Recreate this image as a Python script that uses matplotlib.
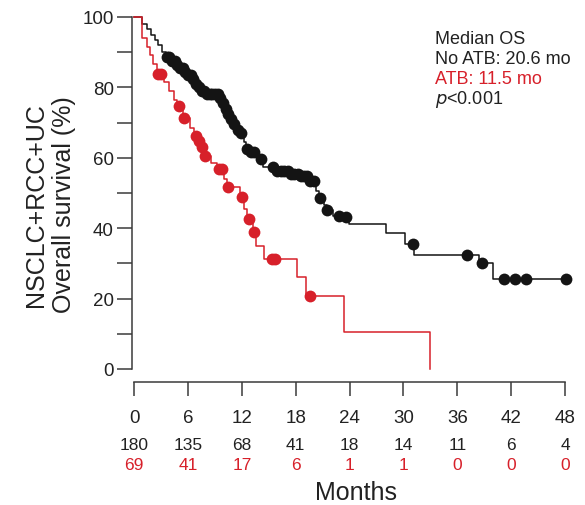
import matplotlib
matplotlib.use("Agg")
import matplotlib.pyplot as plt
import matplotlib.transforms as mtransforms
import numpy as np

plt.rcParams["font.family"] = ["Liberation Sans", "DejaVu Sans"]

# ===== DATOS =====
# curva sin antibioticos (No ATB)
times_noatb = [0, 0.9, 1.4, 1.9, 2.3, 2.7, 3.1, 3.5, 4.2, 4.6, 5.0, 5.5, 6.0, 6.4,
               6.7, 7.0, 7.5, 8.0, 9.6, 9.9, 10.2, 10.5, 10.7, 10.9, 11.3, 11.8,
               12.2, 12.5, 13.0, 13.8, 14.3, 15.6, 17.5, 18.5, 19.6, 20.3, 20.6,
               21.2, 21.5, 22.2, 23.4, 23.9, 28.0, 30.2, 31.2, 38.4, 40.0]
surv_noatb = [100, 98, 96.5, 95, 93.5, 92, 90, 88.5, 87.5, 86.5, 85.5, 84.5, 83.5,
              82.5, 81, 80, 79, 78, 77, 75.5, 74, 72.5, 71, 69.5, 68, 67, 64.5,
              62.5, 61.6, 59.7, 57.4, 56.3, 55.4, 54.9, 53.5, 50.5, 48.6, 46.5,
              45.2, 43.6, 43.2, 41.2, 38.5, 35.5, 32.4, 30.0, 25.6]
censor_noatb = [3.6, 3.9, 4.2, 4.5, 4.8, 5.1, 5.4, 5.7, 6.0, 6.3, 6.6, 6.9, 7.2,
                7.5, 7.8, 8.1, 8.4, 8.7, 9.0, 9.3, 9.6, 9.9, 10.2, 10.5, 10.8,
                11.1, 11.6, 11.9, 12.6, 13.0, 13.4, 14.1, 15.5, 15.9, 16.3, 16.7,
                17.1, 17.5, 17.8, 18.2, 18.6, 18.9, 19.3, 19.6, 20.0, 20.7, 21.5,
                22.8, 23.6, 31.1, 37.1, 38.7, 41.2, 42.4, 43.6, 48.1]

# curva con antibioticos (ATB)
times_atb = [0, 0.85, 1.4, 1.8, 2.1, 2.5, 3.3, 3.9, 4.4, 4.8, 5.4, 6.2, 6.7, 7.1,
             7.4, 7.8, 8.6, 9.2, 10.0, 10.3, 11.8, 12.2, 12.6, 13.2, 13.6, 14.5,
             18.1, 19.1, 23.4, 33.0]
surv_atb = [100, 94, 91.4, 89.1, 86.6, 83.8, 81.5, 79, 76.5, 74.8, 71.2, 68.5,
            66.3, 64.9, 63, 60.6, 58.5, 56.8, 54, 51.6, 48.8, 45.5, 42.6, 38.8,
            35, 31.25, 26, 20.6, 10.4, 0]
censor_atb = [2.7, 3.0, 5.0, 5.6, 6.9, 7.2, 7.6, 7.9, 9.4, 9.8, 10.5, 12.0, 12.8,
              13.4, 15.3, 15.7, 19.6]

month_ticks = [0, 6, 12, 18, 24, 30, 36, 42, 48]
at_risk_noatb = [180, 135, 68, 41, 18, 14, 11, 6, 4]
at_risk_atb = [69, 41, 17, 6, 1, 1, 0, 0, 0]

BLACK = "#141414"
RED = "#d7202a"
AXIS = "#3a3a3a"


def step_value(times, surv, t):
    idx = np.searchsorted(times, t, side="right") - 1
    return np.asarray(surv)[idx]


# ===== FIGURA =====
fig = plt.figure(figsize=(5.85, 5.06), dpi=100)
ax = fig.add_axes([132 / 585, 136 / 506, 433 / 585, 352 / 506])

for times, surv, cens, col in [
    (times_noatb, surv_noatb, censor_noatb, BLACK),
    (times_atb, surv_atb, censor_atb, RED),
]:
    t_line = list(times)
    s_line = list(surv)
    if max(cens) > t_line[-1]:
        t_line.append(max(cens))
        s_line.append(s_line[-1])
    ax.step(t_line, s_line, where="post", color=col, lw=1.1, clip_on=False, zorder=3)
    ax.plot(cens, step_value(times, surv, cens), "o", color=col, ms=8.5,
            mec="none", clip_on=False, zorder=4)

ax.set_xlim(-0.25, 48)
ax.set_ylim(0, 100)

for side in ["top", "right"]:
    ax.spines[side].set_visible(False)
ax.spines["left"].set_bounds(0, 100)
ax.spines["bottom"].set_position(("outward", 9))
ax.spines["bottom"].set_bounds(0, 48)
for side in ["left", "bottom"]:
    ax.spines[side].set_color(AXIS)
    ax.spines[side].set_linewidth(1.1)

ax.set_yticks([0, 20, 40, 60, 80, 100])
ax.set_yticks([10, 30, 50, 70, 90], minor=True)
ax.set_xticks(month_ticks)
ax.tick_params(axis="y", which="both", length=11, width=1.1, color=AXIS,
               pad=2, labelsize=13.5, labelcolor="#222222")
ax.tick_params(axis="x", length=10, width=1.1, color=AXIS, pad=10,
               labelsize=13.5, labelcolor="#222222")

# ===== TABLA DE RIESGO =====
trans = mtransforms.blended_transform_factory(ax.transData, fig.transFigure)
for x, n1, n2 in zip(month_ticks, at_risk_noatb, at_risk_atb):
    ax.text(x, 60 / 506, str(n1), transform=trans, ha="center", va="center",
            fontsize=12.5, color="#222222")
    ax.text(x, 40 / 506, str(n2), transform=trans, ha="center", va="center",
            fontsize=12.5, color=RED)

fig.text(356 / 585, 13 / 506, "Months", ha="center", va="center", fontsize=18,
         color="#222222")
fig.text(50 / 585, 301 / 506, "NSCLC+RCC+UC\nOverall survival (%)", rotation=90,
         ha="center", va="center", multialignment="center", fontsize=18,
         linespacing=1.2, color="#222222")

# ===== LEYENDA =====
fig.text(435 / 585, 466 / 506, "Median OS", fontsize=13, va="center", color="#222222")
fig.text(435 / 585, 446 / 506, "No ATB: 20.6 mo", fontsize=13, va="center", color="#222222")
fig.text(435 / 585, 426 / 506, "ATB: 11.5 mo", fontsize=13, va="center", color=RED)
fig.text(435 / 585, 406 / 506, r"$\mathit{p}$<0.001", fontsize=13, va="center",
         color="#222222")

fig.savefig("out.png", dpi=100)
